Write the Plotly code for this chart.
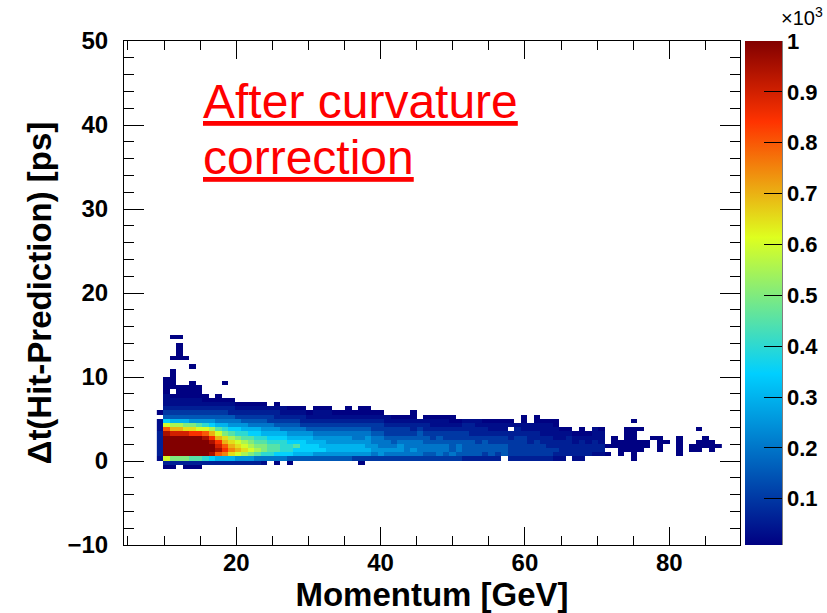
import numpy as np
import plotly.graph_objects as go

# ---------------- data ----------------
# x bins: width 0.9 GeV, first filled bin index 10 (9.0-9.9 GeV)
x_bin_width = 0.9
first_x_bin = 10
# y bins: width 0.5 ps starting at -1 ps, 32 bins
y_start = -1.0
y_bin_width = 0.5
n_y_bins = 32

# colour-level codes (entries per bin)
level_counts = {
    'a': 10, 'b': 30, 'c': 60, 'd': 100, 'e': 150, 'f': 200, 'g': 250,
    'h': 300, 'i': 350, 'j': 400, 'k': 450, 'l': 500, 'm': 550, 'n': 600,
    'o': 650, 'p': 700, 'q': 750, 'r': 800, 's': 850, 't': 900, 'u': 950,
    'v': 1000, 'w': 1200,
}

# one string per x bin, bottom (y=-1) to top; '.' = empty bin
column_cells = [
    "..bccccccbbb.a",                      # 10
    "acnwwwwwurniedcbbbaaaa",              # 11
    "aclwwwwwtpmhedcbba.aaaaa..a....a",    # 12
    ".clwwwwwtpmhedcbbaaa......aaaa.a",    # 13
    "aclwwwwwtolhedcbbaaa......a",         # 14
    "ackwwwwwsolgedcbbaaaa...a",           # 15
    "ackwwwwvsnkgedcbbaaa",                # 16
    ".cjwwwwurnjgedcbaa",                  # 17
    ".ciuwwuspmigedcba",                   # 18
    ".chrutspnkhfedcbaa",                  # 19
    ".chqsrpoljhfedcba...a",               # 20
    ".choqpomkigfeccba",                   # 21
    ".cgnponljigfdcba",                    # 22
    ".cgmonmkjhgedcba",                    # 23
    ".cglnmlkihfedcba",                    # 24
    ".cfkmlkjihfedcba",                    # 25
    ".bfjllkjhgfedcba",                    # 26
    "..fjkkjihgfddcb",                     # 27
    ".afikkjihgedccba",                    # 28
    "..fijjjihfedcbb",                     # 29
    ".aeijjihgfedcba",                     # 30
    "..ehikihgfedcba",                     # 31
    "..ehiiihgfdccba",                     # 32
    "..ehiihhgedcba",                      # 33
    "..egiihgfedcbba",                     # 34
    "..egihhgfedcbba",                     # 35
    "..eghhggfedcbba",                     # 36
    "..eghhggfedcba",                      # 37
    "..eghhggfedcba",                      # 38
    "..eghhggfedcbaa",                     # 39
    "..dghhgffedcba",                      # 40
    ".adghhgffedcbaa",                     # 41
    "..dghgggfedcbaa",                     # 42
    "..dfggffeddcba",                      # 43
    "..dggfffeddcba",                      # 44
    "..dfgffeddcbb",                       # 45
    "..dfgfeeddcba",                       # 46
    "..dfggfeddcba",                       # 47
    "..dffffeddcba",                       # 48
    "..dfgffedccbaa",                      # 49
    "..dffffeedcb",                        # 50
    "..deffeedccba",                       # 51
    "..deffeddcbba",                       # 52
    "..dfffeedcbba",                       # 53
    "..deffeddcbba",                       # 54
    "..dfeeeddcbaa",                       # 55
    "..deffeddcba",                        # 56
    "..ceeeeddccb",                        # 57
    "..ceeeedcccb",                        # 58
    "..ceeeddccbb",                        # 59
    "..cdeeedccba",                        # 60
    "..ceeeddcbba",                        # 61
    "..cdeeddcbba",                        # 62
    "...eeeddcbba",                        # 63
    "..cddddcc.ba",                        # 64
    "..cdddddccb",                         # 65
    "..cdddddcbbaa",                       # 66
    "..cdddcccbb",                         # 67
    "..cddddccbbaa",                       # 68
    "..cdddccbbba",                        # 69
    "..cddcccbbba",                        # 70
    "..bcdccbbbaa",                        # 71
    "..bccccbba",                          # 72
    "...cccccba",                          # 73
    "..bcccbba",                           # 74
    "..bccccbaa",                          # 75
    "...cccbba",                           # 76
    "...bcccbbb",                          # 77
    "...bccbbba",                          # 78
    "...a.a",                              # 79
    ".....aaa",                            # 80
    "...aaaa",                             # 81
    "....aaaaaa",                          # 82
    "..aaaaaaaa.a",                        # 83
    "....aaa..a",                          # 84
    ".....aa",                             # 85
    ".......a",                            # 86
    "....aaaa",                            # 87
    "......a",                             # 88
    "",                                    # 89
    "...aaaaa",                            # 90
    "",                                    # 91
    "....aa",                              # 92
    "....aaa..a",                          # 93
    ".....aaa",                            # 94
    "....aaa",                             # 95
    ".....a",                              # 96
]

x_tick_vals = [20, 40, 60, 80]
y_tick_vals = [-10, 0, 10, 20, 30, 40, 50]
z_tick_vals = [100, 200, 300, 400, 500, 600, 700, 800, 900, 1000]
z_tick_text = ["0.1", "0.2", "0.3", "0.4", "0.5", "0.6", "0.7", "0.8", "0.9", "1"]

# ---------------- build matrix ----------------
n_cols = len(column_cells)
z = np.full((n_y_bins, n_cols), np.nan)
for ci, col in enumerate(column_cells):
    for j, ch in enumerate(col):
        if ch != '.':
            z[j, ci] = level_counts[ch]

x_centers = (first_x_bin + np.arange(n_cols) + 0.5) * x_bin_width
y_centers = y_start + (np.arange(n_y_bins) + 0.5) * y_bin_width

colorscale = [
    [0.0, "rgb(0,0,130)"],
    [0.34, "rgb(0,207,255)"],
    [0.61, "rgb(222,255,31)"],
    [0.84, "rgb(255,51,0)"],
    [1.0, "rgb(130,0,0)"],
]

FONT = "Liberation Sans, Arial, Helvetica, sans-serif"

# plot geometry in pixels
L, R, T, B = 124, 740, 41, 545
W, H = 827, 613

def px(xp):
    return (xp - L) / (R - L)

def py(yp):
    return (B - yp) / (B - T)

fig = go.Figure()
fig.add_trace(go.Heatmap(
    x=x_centers, y=y_centers, z=z,
    colorscale=colorscale, zmin=9, zmax=1000,
    hoverongaps=False,
    colorbar=dict(
        x=px(745), xanchor="left", xpad=0,
        y=0, yanchor="bottom", ypad=0,
        len=B - T, lenmode="pixels",
        thickness=37, thicknessmode="pixels",
        outlinewidth=0,
        tickvals=z_tick_vals, ticktext=z_tick_text,
        ticks="inside", ticklen=18, tickwidth=1, tickcolor="black",
        tickfont=dict(family=FONT, size=22, color="black", weight="bold"),
    ),
))

axis_common = dict(
    showline=True, linecolor="black", linewidth=1,
    mirror="allticks", ticks="inside", tickcolor="black", tickwidth=1,
    showgrid=False, zeroline=False,
    tickfont=dict(family=FONT, size=24, color="black", weight="bold"),
)

fig.update_xaxes(
    range=[4.45, 89.8], tickvals=x_tick_vals, ticklen=18,
    minor=dict(dtick=5, tick0=0, ticklen=9, ticks="inside", tickcolor="black", showgrid=False),
    title=dict(text="Momentum [GeV]", font=dict(family=FONT, size=33, color="black", weight="bold"), standoff=2),
    ticklabelstandoff=-4,
    **axis_common,
)
fig.update_yaxes(
    range=[-10, 50], tickvals=y_tick_vals, ticklen=20,
    minor=dict(dtick=2, tick0=0, ticklen=10, ticks="inside", tickcolor="black", showgrid=False),
    title=dict(text="\u0394t(Hit-Prediction) [ps]", font=dict(family=FONT, size=33, color="black", weight="bold"), standoff=5),
    ticklabelstandoff=10,
    **axis_common,
)

# colour bar right border line
fig.add_shape(type="line", xref="paper", yref="paper",
              x0=px(782), x1=px(782), y0=0, y1=1,
              line=dict(color="black", width=1))

annotations = [
    dict(text="\u00d710<sup>3</sup>", x=px(779), y=py(17), xanchor="left", yanchor="middle",
         font=dict(family=FONT, size=20, color="black")),
    dict(text="<u>After curvature</u>", x=px(201), y=py(101), xanchor="left", yanchor="middle",
         font=dict(family=FONT, size=48, color="red")),
    dict(text="<u>correction</u>", x=px(201), y=py(157), xanchor="left", yanchor="middle",
         font=dict(family=FONT, size=48, color="red")),
]
for a in annotations:
    fig.add_annotation(xref="paper", yref="paper", showarrow=False, **a)

fig.update_layout(
    width=W, height=H,
    margin=dict(l=L, r=W - R, t=T, b=H - B, autoexpand=False),
    plot_bgcolor="white", paper_bgcolor="white",
    showlegend=False,
)

fig.write_html("out.html")
